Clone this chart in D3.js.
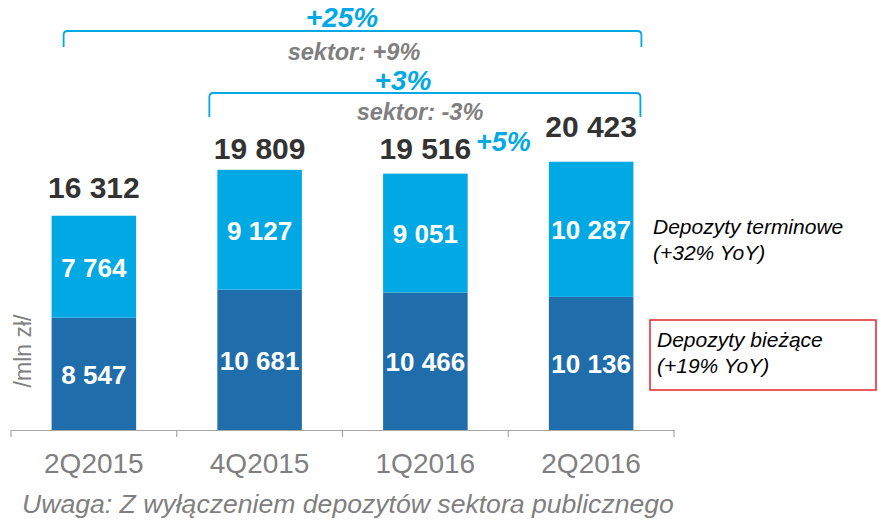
<!DOCTYPE html>
<html>
<head>
<meta charset="utf-8">
<script src="https://cdn.jsdelivr.net/npm/d3@7"></script>
<style>
  html, body { margin: 0; padding: 0; background: #fff; }
  svg { display: block; font-family: "Liberation Sans", Arial, sans-serif; }
</style>
</head>
<body>
<svg id="chart" width="878" height="523"></svg>
<script>
// ---- data ----
const categories = ["2Q2015", "4Q2015", "1Q2016", "2Q2016"];
const currentDeposits = [8547, 10681, 10466, 10136];   // Depozyty bieżące
const termDeposits = [7764, 9127, 9051, 10287];        // Depozyty terminowe
const totals = [16312, 19809, 19516, 20423];
const totalLabels = ["16 312", "19 809", "19 516", "20 423"];
const currentLabels = ["8 547", "10 681", "10 466", "10 136"];
const termLabels = ["7 764", "9 127", "9 051", "10 287"];
const legendTerm = ["Depozyty terminowe", "(+32% YoY)"];
const legendCurrent = ["Depozyty bieżące", "(+19% YoY)"];
const growthLabels = { yoy: "+25%", yoySector: "sektor: +9%", ytd: "+3%", ytdSector: "sektor: -3%", qoq: "+5%" };
const yAxisLabel = "/mln zł/";
const footnote = "Uwaga: Z wyłączeniem depozytów sektora publicznego";

// ---- layout ----
const lightBlue = "#00a9e3", darkBlue = "#1f6eab", grey = "#7f7f7f";
const totalLift = [18, 11, 15, 25];

const svg = d3.select("#chart");
const x = d3.scaleBand().domain(categories).range([11, 674]).padding(0);
const y = d3.scaleLinear().domain([0, 22000]).range([430, 141]);
const barW = x.bandwidth() * 0.51;
const bx = c => x(c) + (x.bandwidth() - barW) / 2;

const rows = categories.map((c, i) => ({ c, cur: currentDeposits[i], term: termDeposits[i], total: totals[i], i }));

// bars
svg.append("g").selectAll("rect").data(rows).join("rect")
  .attr("x", d => bx(d.c)).attr("width", barW)
  .attr("y", d => y(d.cur)).attr("height", d => y(0) - y(d.cur))
  .attr("fill", darkBlue);
svg.append("g").selectAll("rect").data(rows).join("rect")
  .attr("x", d => bx(d.c)).attr("width", barW)
  .attr("y", d => y(d.cur + d.term)).attr("height", d => y(d.cur) - y(d.cur + d.term))
  .attr("fill", lightBlue);

// segment labels
svg.append("g").selectAll("text").data(rows).join("text")
  .attr("x", d => bx(d.c) + barW / 2)
  .attr("y", d => (y(0) + y(d.cur)) / 2 + 10)
  .attr("text-anchor", "middle").attr("fill", "#fff")
  .attr("font-size", 26).attr("font-weight", "bold")
  .text(d => currentLabels[d.i]);
svg.append("g").selectAll("text").data(rows).join("text")
  .attr("x", d => bx(d.c) + barW / 2)
  .attr("y", d => (y(d.cur) + y(d.cur + d.term)) / 2 + 10)
  .attr("text-anchor", "middle").attr("fill", "#fff")
  .attr("font-size", 26).attr("font-weight", "bold")
  .text(d => termLabels[d.i]);

// totals
svg.append("g").selectAll("text").data(rows).join("text")
  .attr("x", d => bx(d.c) + barW / 2)
  .attr("y", d => y(d.total) - totalLift[d.i])
  .attr("text-anchor", "middle").attr("fill", "#333333")
  .attr("font-size", 30).attr("font-weight", "bold")
  .text(d => totalLabels[d.i]);

// axis
const axis = d3.axisBottom(x).tickSize(0).tickFormat("");
const ag = svg.append("g").attr("transform", "translate(0,430)").call(axis);
ag.select(".domain").attr("stroke", "#a6a6a6").attr("stroke-width", 1.2);
const bounds = [...categories.map(c => x(c)), x(categories[categories.length - 1]) + x.bandwidth()];
svg.append("g").selectAll("line").data(bounds).join("line")
  .attr("x1", d => d).attr("x2", d => d).attr("y1", 430).attr("y2", 437)
  .attr("stroke", "#a6a6a6").attr("stroke-width", 1.2);
svg.append("g").selectAll("text").data(categories).join("text")
  .attr("x", d => x(d) + x.bandwidth() / 2).attr("y", 473)
  .attr("text-anchor", "middle").attr("fill", grey).attr("font-size", 28)
  .text(d => d);

// y axis label
svg.append("text").attr("transform", "translate(31,351) rotate(-90)")
  .attr("text-anchor", "middle").attr("fill", grey).attr("font-size", 23)
  .text(yAxisLabel);

// brackets
function bracket(x0, x1, yTop, yBot) {
  const r = 4;
  return `M${x0},${yBot} L${x0},${yTop + r} Q${x0},${yTop} ${x0 + r},${yTop} L${x1 - r},${yTop} Q${x1},${yTop} ${x1},${yTop + r} L${x1},${yBot}`;
}
const b1x0 = bx(categories[0]) + 12, b1x1 = bx(categories[3]) + barW + 8;
const b2x0 = bx(categories[1]) - 8, b2x1 = bx(categories[3]) + barW + 7;
svg.append("path").attr("d", bracket(b1x0, b1x1, 31, 47))
  .attr("fill", "none").attr("stroke", lightBlue).attr("stroke-width", 1.8);
svg.append("path").attr("d", bracket(b2x0, b2x1, 93, 117))
  .attr("fill", "none").attr("stroke", lightBlue).attr("stroke-width", 1.8);

svg.append("text").attr("x", 342).attr("y", 27).attr("text-anchor", "middle")
  .attr("fill", lightBlue).attr("font-size", 28).attr("font-weight", "bold").attr("font-style", "italic")
  .text(growthLabels.yoy);
svg.append("text").attr("x", 354).attr("y", 60).attr("text-anchor", "middle")
  .attr("fill", grey).attr("font-size", 23.5).attr("font-weight", "bold").attr("font-style", "italic")
  .text(growthLabels.yoySector);
svg.append("text").attr("x", 403).attr("y", 90).attr("text-anchor", "middle")
  .attr("fill", lightBlue).attr("font-size", 28).attr("font-weight", "bold").attr("font-style", "italic")
  .text(growthLabels.ytd);
svg.append("text").attr("x", 420).attr("y", 120).attr("text-anchor", "middle")
  .attr("fill", grey).attr("font-size", 23.5).attr("font-weight", "bold").attr("font-style", "italic")
  .text(growthLabels.ytdSector);
svg.append("text").attr("x", 476).attr("y", 151).attr("text-anchor", "start")
  .attr("fill", lightBlue).attr("font-size", 27).attr("font-weight", "bold").attr("font-style", "italic")
  .text(growthLabels.qoq);

// legend notes
const lg = svg.append("g").attr("font-size", 21).attr("font-style", "italic").attr("fill", "#000");
lg.selectAll("text.t").data(legendTerm).join("text").attr("class", "t")
  .attr("x", 653).attr("y", (d, i) => 234 + i * 26).text(d => d);
svg.append("rect").attr("x", 650).attr("y", 320).attr("width", 226).attr("height", 70)
  .attr("fill", "none").attr("stroke", "#e3242b").attr("stroke-width", 1.5);
lg.selectAll("text.c").data(legendCurrent).join("text").attr("class", "c")
  .attr("x", 657).attr("y", (d, i) => 347 + i * 26).text(d => d);

// footnote
svg.append("text").attr("x", 22).attr("y", 513).attr("fill", grey)
  .attr("font-size", 26.6).attr("font-style", "italic").text(footnote);
</script>
</body>
</html>
